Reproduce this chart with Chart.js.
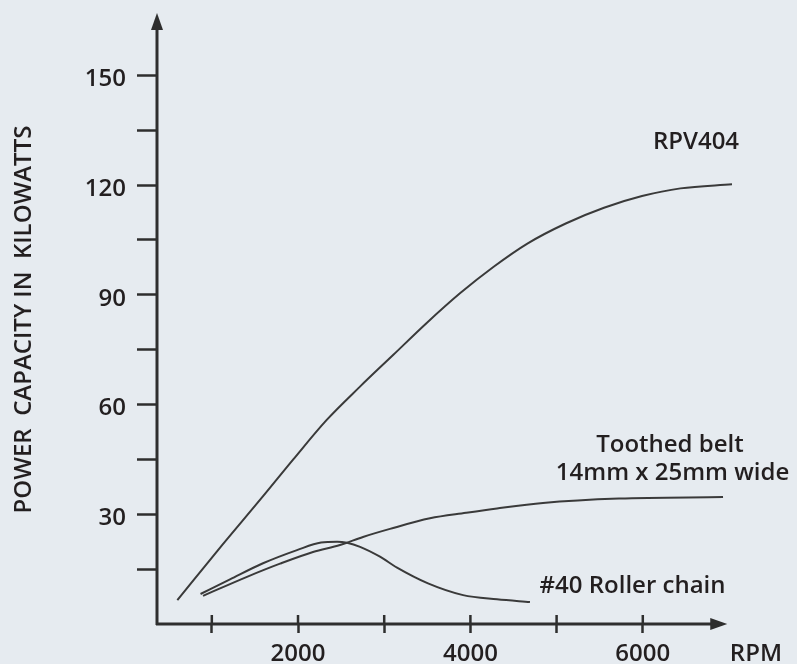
<!DOCTYPE html>
<html>
<head>
<meta charset="utf-8">
<script src="https://cdn.jsdelivr.net/npm/chart.js@4.4.1/dist/chart.umd.min.js"></script>
<style>
html, body { margin: 0; padding: 0; background: #e6ebf0; }
#wrap { width: 797px; height: 664px; }
</style>
</head>
<body>
<div id="wrap"><canvas id="chart" width="797" height="664"></canvas></div>
<script>
// ── Data ────────────────────────────────────────────────────────────────
const RPV_RPM   = [600, 1065, 1597, 1945, 2333, 2719, 3106, 3493, 3879, 4266, 4661, 5106, 5550, 5991, 6437, 7035];
const RPV_KW    = [6.5, 20.0, 35.0, 45.0, 55.8, 64.9, 73.6, 82.3, 90.4, 97.6, 104.0, 109.5, 113.8, 117.0, 119.1, 120.2];

const BELT_RPM  = [898, 1408, 1791, 2174, 2487, 2754, 3067, 3531, 3949, 4309, 4842, 5724, 6931];
const BELT_KW   = [7.7, 12.9, 16.5, 19.7, 21.6, 23.8, 26.0, 28.9, 30.4, 31.6, 33.1, 34.3, 34.7];

const CHAIN_RPM = [869, 1211, 1594, 1988, 2267, 2453, 2569, 2720, 2951, 3149, 3508, 3915, 4309, 4691];
const CHAIN_KW  = [8.2, 12.2, 16.6, 20.2, 22.3, 22.5, 22.2, 21.1, 18.4, 15.4, 11.1, 7.9, 6.75, 6.0];

const X_TICKS   = [1000, 2000, 3000, 4000, 5000, 6000];
const X_LABELS  = [2000, 4000, 6000];
const Y_TICKS   = [15, 30, 45, 60, 75, 90, 105, 120, 135, 150];
const Y_LABELS  = [30, 60, 90, 120, 150];

// curve captions, anchored in data units
const NOTE_TEXT = ["RPV404", "Toothed belt", "14mm x 25mm wide", "#40 Roller chain"];
const NOTE_RPM  = [6617, 6315, 6345, 5881];
const NOTE_KW   = [131.8, 49.0, 41.2, 10.25];

const INK   = "#231f20";
const AXIS  = "#2e2e2e";
const LINE  = "#3a3a3a";
const FONT  = "'Open Sans', 'DejaVu Sans', sans-serif";
const X_ARROW_END = 6980;

const toPts = (xs, ys) => xs.map((x, i) => ({ x, y: ys[i] }));

// axes with arrowheads + the upper half of the x ticks
const axesPlugin = {
    id: "axesArrows",
    afterDraw(chart) {
        const { ctx, chartArea } = chart;
        const xs = chart.scales.x, ys = chart.scales.y;
        const x0 = chartArea.left, y0 = ys.getPixelForValue(0);
        const xEnd = xs.getPixelForValue(X_ARROW_END);
        const yEnd = chartArea.top - 2;
        ctx.save();
        ctx.strokeStyle = AXIS;
        ctx.fillStyle = AXIS;
        ctx.lineWidth = 3;
        ctx.beginPath();
        ctx.moveTo(x0, y0 + 1);
        ctx.lineTo(x0, yEnd + 12);
        ctx.moveTo(x0 - 1, y0);
        ctx.lineTo(xEnd - 12, y0);
        ctx.stroke();
        ctx.beginPath();
        ctx.moveTo(x0, yEnd);
        ctx.lineTo(x0 - 6, yEnd + 17);
        ctx.lineTo(x0 + 6, yEnd + 17);
        ctx.closePath();
        ctx.fill();
        ctx.beginPath();
        ctx.moveTo(xEnd, y0);
        ctx.lineTo(xEnd - 17, y0 - 6);
        ctx.lineTo(xEnd - 17, y0 + 6);
        ctx.closePath();
        ctx.fill();
        ctx.lineWidth = 2.5;
        ctx.beginPath();
        xs.ticks.forEach(t => {
            const px = xs.getPixelForValue(t.value);
            ctx.moveTo(px, y0);
            ctx.lineTo(px, y0 - 9);
        });
        ctx.stroke();
        ctx.restore();
    },
};

const notesPlugin = {
    id: "curveNotes",
    afterDatasetsDraw(chart) {
        const { ctx } = chart;
        const xs = chart.scales.x, ys = chart.scales.y;
        ctx.save();
        ctx.fillStyle = INK;
        ctx.font = `600 24px ${FONT}`;
        ctx.textAlign = "center";
        ctx.textBaseline = "middle";
        NOTE_TEXT.forEach((t, i) => {
            ctx.fillText(t, xs.getPixelForValue(NOTE_RPM[i]), ys.getPixelForValue(NOTE_KW[i]));
        });
        ctx.restore();
    },
};

const lineSet = (label, pts) => ({
    label, data: pts, borderColor: LINE, borderWidth: 2,
    pointRadius: 0, fill: false, cubicInterpolationMode: "monotone",
});

new Chart(document.getElementById("chart"), {
    type: "line",
    data: {
        datasets: [
            lineSet("RPV404", toPts(RPV_RPM, RPV_KW)),
            lineSet("Toothed belt 14mm x 25mm wide", toPts(BELT_RPM, BELT_KW)),
            lineSet("#40 Roller chain", toPts(CHAIN_RPM, CHAIN_KW)),
        ],
    },
    options: {
        responsive: false,
        animation: false,
        devicePixelRatio: 1,
        layout: { padding: { left: 0, right: 15, top: 15, bottom: 0 } },
        plugins: { legend: { display: false }, tooltip: { enabled: false } },
        scales: {
            x: {
                type: "linear", min: 364, max: 7615,
                afterBuildTicks: s => { s.ticks = X_TICKS.map(v => ({ value: v })); },
                afterFit: s => { s.height = 40; s.paddingLeft = 0; s.paddingRight = 0; },
                border: { display: false },
                grid: { drawOnChartArea: false, drawTicks: true, tickLength: 9, tickWidth: 2.5, tickColor: AXIS },
                ticks: {
                    autoSkip: false, maxRotation: 0, padding: 7,
                    color: INK, font: { family: FONT, size: 24, weight: "600" },
                    callback: v => X_LABELS.includes(v) ? String(v) : "",
                },
                title: {
                    display: true, text: "RPM", align: "end", color: INK, padding: { top: 0, bottom: -2 },
                    font: { family: FONT, size: 24, weight: "600", lineHeight: 1 },
                },
            },
            y: {
                min: 0, max: 166.5,
                afterBuildTicks: s => { s.ticks = Y_TICKS.map(v => ({ value: v })); },
                afterFit: s => { s.width = 157; s.paddingTop = 0; s.paddingBottom = 0; },
                border: { display: false },
                grid: { drawOnChartArea: false, drawTicks: true, tickLength: 20, tickWidth: 2.5, tickColor: AXIS },
                ticks: {
                    autoSkip: false, padding: 11, labelOffset: 4,
                    color: INK, font: { family: FONT, size: 24, weight: "600" },
                    callback: v => Y_LABELS.includes(v) ? String(v) : "",
                },
                title: {
                    display: true, text: "POWER  CAPACITY IN  KILOWATTS", color: INK,
                    padding: { top: 10, bottom: 0 },
                    font: { family: FONT, size: 24, weight: "600" },
                },
            },
        },
    },
    plugins: [axesPlugin, notesPlugin],
});
</script>
</body>
</html>
